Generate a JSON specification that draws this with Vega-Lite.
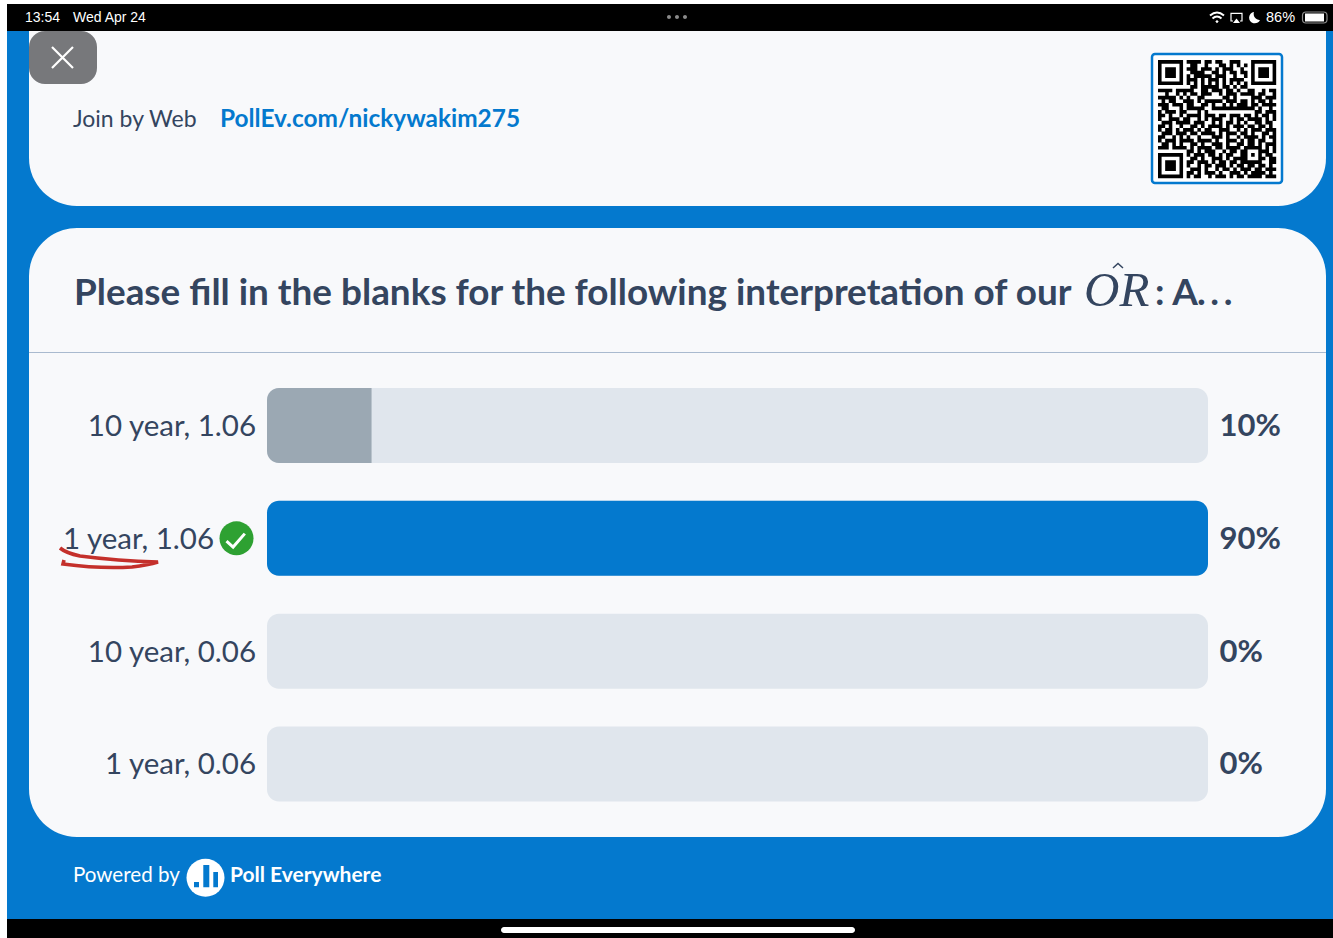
{
"$schema":"https://vega.github.io/schema/vega-lite/v6.json",
"width":1333,"height":938,"padding":0,"autosize":"none","background":"#ffffff",
"config":{"view":{"stroke":null},"point":{"opacity":1},"text":{"font":"Lato","baseline":"middle","align":"left"}},
"data":{"values":[
{"option":"10 year, 1.06","share":0.10,"correct":false},
{"option":"1 year, 1.06","share":0.90,"correct":true},
{"option":"10 year, 0.06","share":0.00,"correct":false},
{"option":"1 year, 0.06","share":0.00,"correct":false}
]},
"layer":[
{"data":{"values":[{"part":"status bar"}]},"mark":{"type":"rect","fill":"#000000"},"encoding":{"x":{"value":7},"x2":{"value":1333},"y":{"value":4},"y2":{"value":31}}},
{"data":{"values":[{"part":"page"}]},"mark":{"type":"rect","fill":"#0479CE"},"encoding":{"x":{"value":7},"x2":{"value":1333},"y":{"value":31},"y2":{"value":919}}},
{"data":{"values":[{"part":"home bar"}]},"mark":{"type":"rect","fill":"#000000"},"encoding":{"x":{"value":7},"x2":{"value":1333},"y":{"value":919},"y2":{"value":938}}},
{"data":{"values":[{"part":"home indicator"}]},"mark":{"type":"rect","fill":"#ffffff","cornerRadius":3},"encoding":{"x":{"value":501},"x2":{"value":855},"y":{"value":927},"y2":{"value":933}}},
{"data":{"values":[{"part":"join card"}]},"mark":{"type":"rect","fill":"#F8F9FB","cornerRadiusBottomLeft":48,"cornerRadiusBottomRight":48},"encoding":{"x":{"value":29},"x2":{"value":1326},"y":{"value":31},"y2":{"value":206}}},
{"data":{"values":[{"part":"poll card"}]},"mark":{"type":"rect","fill":"#F8F9FB","cornerRadius":48},"encoding":{"x":{"value":29},"x2":{"value":1326},"y":{"value":228},"y2":{"value":837}}},
{"data":{"values":[{"part":"divider"}]},"mark":{"type":"rect","fill":"#A9BACF"},"encoding":{"x":{"value":29},"x2":{"value":1326},"y":{"value":352},"y2":{"value":353}}},
{"data":{"values":[{"part":"close button"}]},"mark":{"type":"rect","fill":"#77787B","cornerRadius":16},"encoding":{"x":{"value":29},"x2":{"value":97},"y":{"value":31},"y2":{"value":84}}},
{"data":{"values":[{"part":"close icon"}]},"mark":{"type":"point","shape":"M52 47L73 68M73 47L52 68","size":4,"filled":false,"stroke":"#ffffff","strokeWidth":2.2},"encoding":{"x":{"value":0},"y":{"value":0}}},
{"data":{"values":[{"part":"qr frame"}]},"mark":{"type":"rect","fill":"#ffffff","stroke":"#0479CE","strokeWidth":2.5,"cornerRadius":3},"encoding":{"x":{"value":1152},"x2":{"value":1282},"y":{"value":54},"y2":{"value":183}}},
{"data":{"values":[{"part":"qr code"}]},"mark":{"type":"point","size":51.3,"filled":false,"stroke":"#000000","strokeWidth":3.65,"shape":"M0 0H7M8 0H12M13 0H15M16 0H18M20 0H23M26 0H33M0 1H1M6 1H7M9 1H11M13 1H14M17 1H19M20 1H21M22 1H23M24 1H25M26 1H27M32 1H33M0 2H1M2 2H5M6 2H7M8 2H11M12 2H15M16 2H17M18 2H21M23 2H24M26 2H27M28 2H31M32 2H33M0 3H1M2 3H5M6 3H7M9 3H13M15 3H17M18 3H19M20 3H22M23 3H25M26 3H27M28 3H31M32 3H33M0 4H1M2 4H5M6 4H7M8 4H9M10 4H15M16 4H19M21 4H22M24 4H25M26 4H27M28 4H31M32 4H33M0 5H1M6 5H7M8 5H11M12 5H13M14 5H17M18 5H19M20 5H24M26 5H27M32 5H33M0 6H7M8 6H9M10 6H11M12 6H13M14 6H15M16 6H17M18 6H19M20 6H21M22 6H23M24 6H25M26 6H33M9 7H11M12 7H17M18 7H20M21 7H22M23 7H25M0 8H4M5 8H10M12 8H14M15 8H18M19 8H21M22 8H23M25 8H27M29 8H30M31 8H33M2 9H3M5 9H6M7 9H8M9 9H11M12 9H15M17 9H18M19 9H22M23 9H27M28 9H30M32 9H33M0 10H5M6 10H7M8 10H9M11 10H13M18 10H20M21 10H22M26 10H29M30 10H33M1 11H2M3 11H5M7 11H10M11 11H12M13 11H18M19 11H22M23 11H25M26 11H27M28 11H30M31 11H32M0 12H3M4 12H7M8 12H10M12 12H14M15 12H16M18 12H19M20 12H21M22 12H25M26 12H28M29 12H33M1 13H3M6 13H7M8 13H13M15 13H27M28 13H29M31 13H32M0 14H1M2 14H5M6 14H8M11 14H12M13 14H14M27 14H29M30 14H33M0 15H2M3 15H4M6 15H7M8 15H12M13 15H16M17 15H19M20 15H23M24 15H26M27 15H28M29 15H31M32 15H33M0 16H1M3 16H6M7 16H9M11 16H12M13 16H14M15 16H18M20 16H21M22 16H24M25 16H29M30 16H31M32 16H33M1 17H4M5 17H9M10 17H13M15 17H16M17 17H18M19 17H21M22 17H23M24 17H25M27 17H29M30 17H32M0 18H2M3 18H4M6 18H7M9 18H11M12 18H13M14 18H18M19 18H20M21 18H24M25 18H27M28 18H30M31 18H32M0 19H1M2 19H4M5 19H6M7 19H10M11 19H12M13 19H15M17 19H20M22 19H23M24 19H25M26 19H29M30 19H33M1 20H4M5 20H8M9 20H11M12 20H16M17 20H18M19 20H22M23 20H25M26 20H27M29 20H31M32 20H33M0 21H2M4 21H5M6 21H7M8 21H9M11 21H12M15 21H18M19 21H20M22 21H23M24 21H28M29 21H30M31 21H33M0 22H1M2 22H5M6 22H10M11 22H15M16 22H17M19 22H22M23 22H24M25 22H27M28 22H30M32 22H33M1 23H3M4 23H5M6 23H7M9 23H11M12 23H13M15 23H18M19 23H20M22 23H24M25 23H27M28 23H29M30 23H33M0 24H3M4 24H8M9 24H10M11 24H15M16 24H18M19 24H23M24 24H29M30 24H31M32 24H33M8 25H10M11 25H12M13 25H16M18 25H19M20 25H22M23 25H25M28 25H31M32 25H33M0 26H7M8 26H9M10 26H13M14 26H16M17 26H18M19 26H21M23 26H25M26 26H27M28 26H29M30 26H32M0 27H1M6 27H7M9 27H11M12 27H13M15 27H18M19 27H20M21 27H25M28 27H30M31 27H33M0 28H1M2 28H5M6 28H7M8 28H10M11 28H14M15 28H16M17 28H19M20 28H22M23 28H29M31 28H33M0 29H1M2 29H5M6 29H7M8 29H9M11 29H12M13 29H15M16 29H19M20 29H21M22 29H24M25 29H27M28 29H30M31 29H32M0 30H1M2 30H5M6 30H7M9 30H12M13 30H14M16 30H17M18 30H20M21 30H22M23 30H26M27 30H29M30 30H33M0 31H1M6 31H7M8 31H10M11 31H12M13 31H16M17 31H18M20 31H23M24 31H25M26 31H30M31 31H32M0 32H7M8 32H9M10 32H12M14 32H15M16 32H19M20 32H21M22 32H24M25 32H29M30 32H33"},"encoding":{"x":{"value":1158},"y":{"value":61.8}}},

{"mark":{"type":"bar","fill":"#E0E6ED","cornerRadius":12},"encoding":{
"x":{"datum":0,"type":"quantitative","scale":{"domain":[0,0.9],"range":[267,1208]},"axis":null},
"x2":{"datum":0.9},
"y":{"field":"option","type":"nominal","sort":null,"axis":null,"scale":{"domain":["10 year, 1.06","1 year, 1.06","10 year, 0.06","1 year, 0.06"],"range":[388,801.5],"paddingInner":0.335,"paddingOuter":0}}}},
{"transform":[{"filter":"!datum.correct && datum.share > 0"}],"mark":{"type":"bar","cornerRadiusTopLeft":12,"cornerRadiusBottomLeft":12},"encoding":{
"x":{"field":"share","type":"quantitative","stack":null},
"y":{"field":"option","type":"nominal","sort":null},
"color":{"field":"correct","type":"nominal","legend":null,"scale":{"domain":[false,true],"range":["#9BA8B3","#0479CE"]}}}},
{"transform":[{"filter":"datum.correct"}],"mark":{"type":"bar","cornerRadius":12},"encoding":{
"x":{"field":"share","type":"quantitative","stack":null},
"y":{"field":"option","type":"nominal","sort":null},
"color":{"field":"correct","type":"nominal","legend":null}}},
{"transform":[{"filter":"!datum.correct"}],"mark":{"type":"text","align":"right","fontSize":29.5,"dy":1.5,"fill":"#34455F"},"encoding":{
"x":{"value":256},"y":{"field":"option","type":"nominal","sort":null},"text":{"field":"option"}}},
{"transform":[{"filter":"datum.correct"}],"mark":{"type":"text","align":"right","fontSize":29.5,"dy":1.5,"fill":"#34455F"},"encoding":{
"x":{"value":214},"y":{"field":"option","type":"nominal","sort":null},"text":{"field":"option"}}},
{"mark":{"type":"text","fontSize":31,"fontWeight":"bold","dy":1.5,"fill":"#34455F"},"encoding":{
"x":{"value":1219.5},"y":{"field":"option","type":"nominal","sort":null},"text":{"field":"share","type":"quantitative","format":".0%"}}},
{"transform":[{"filter":"datum.correct"}],"mark":{"type":"circle","fill":"#2EA132","size":1156,"opacity":1},"encoding":{
"x":{"value":236.5},"y":{"field":"option","type":"nominal","sort":null}}},
{"transform":[{"filter":"datum.correct"}],"mark":{"type":"point","shape":"M-10 2.7L-3.4 8.7L8.3 -4.7","size":4,"filled":false,"stroke":"#ffffff","strokeWidth":3},"encoding":{
"x":{"value":236.5},"y":{"field":"option","type":"nominal","sort":null}}},
{"data":{"values":[{"part":"pen underline"}]},"mark":{"type":"point","size":4,"filled":false,"stroke":"#C4302B","strokeWidth":3.6,"shape":"M60 548Q66 553 80 556Q118 561 158 562Q148 565 132 567Q100 569 63 564L64 560"},"encoding":{"x":{"value":0},"y":{"value":0}}},

{"data":{"values":[{"t":"13:54"}]},"mark":{"type":"text","font":"Liberation Sans","fontSize":14,"fill":"#ffffff"},"encoding":{"x":{"value":25},"y":{"value":17.5},"text":{"field":"t"}}},
{"data":{"values":[{"t":"Wed Apr 24"}]},"mark":{"type":"text","font":"Liberation Sans","fontSize":14,"fill":"#ffffff"},"encoding":{"x":{"value":73},"y":{"value":17.5},"text":{"field":"t"}}},
{"data":{"values":[{"t":"86%"}]},"mark":{"type":"text","font":"Liberation Sans","fontSize":14.5,"fill":"#ffffff"},"encoding":{"x":{"value":1266},"y":{"value":17.5},"text":{"field":"t"}}},
{"data":{"values":[{"part":"dots"}]},"mark":{"type":"point","shape":"M667 17a2 2 0 1 0 4 0a2 2 0 1 0 -4 0M675 17a2 2 0 1 0 4 0a2 2 0 1 0 -4 0M683 17a2 2 0 1 0 4 0a2 2 0 1 0 -4 0","size":4,"filled":true,"fill":"#8a8a8a","stroke":null},"encoding":{"x":{"value":0},"y":{"value":0}}},
{"data":{"values":[{"part":"wifi"}]},"mark":{"type":"point","shape":"M1210 15.5Q1217 9.5 1224 15.5M1212.5 18.5Q1217 14.5 1221.5 18.5","size":4,"filled":false,"stroke":"#ffffff","strokeWidth":2},"encoding":{"x":{"value":0},"y":{"value":0}}},
{"data":{"values":[{"part":"wifi dot, airplay arrow, moon, battery level"}]},"mark":{"type":"point","shape":"M1215.3 21.5L1217 20L1218.7 21.5L1217 23.2ZM1233 23H1240L1236.5 18.5ZM1254 12A5.7 5.7 0 1 0 1260 20A6 6 0 0 1 1254 12ZM1305 13.5H1324V21.5H1305Z","size":4,"filled":true,"fill":"#ffffff","stroke":null},"encoding":{"x":{"value":0},"y":{"value":0}}},
{"data":{"values":[{"part":"airplay screen"}]},"mark":{"type":"point","shape":"M1233 21H1231V13.3H1242V21H1240","size":4,"filled":false,"stroke":"#ffffff","strokeWidth":1.2},"encoding":{"x":{"value":0},"y":{"value":0}}},
{"data":{"values":[{"part":"battery case"}]},"mark":{"type":"rect","stroke":"#8c8c8c","strokeWidth":1.2,"fill":null,"cornerRadius":3.5},"encoding":{"x":{"value":1302.5},"x2":{"value":1327},"y":{"value":12},"y2":{"value":23}}},

{"data":{"values":[{"t":"Join by Web"}]},"mark":{"type":"text","fontSize":23,"fill":"#34455F"},"encoding":{"x":{"value":73},"y":{"value":119.5},"text":{"field":"t"}}},
{"data":{"values":[{"t":"PollEv.com/nickywakim275"}]},"mark":{"type":"text","fontSize":24.4,"fontWeight":"bold","fill":"#0479CE"},"encoding":{"x":{"value":220},"y":{"value":119.5},"text":{"field":"t"}}},
{"data":{"values":[{"t":"Please fill in the blanks for the following interpretation of our"}]},"mark":{"type":"text","fontSize":36.9,"fontWeight":"bold","fill":"#34455F"},"encoding":{"x":{"value":74},"y":{"value":294},"text":{"field":"t"}}},
{"data":{"values":[{"t":"OR"}]},"mark":{"type":"text","font":"Liberation Serif","fontStyle":"italic","fontSize":49,"fill":"#34455F"},"encoding":{"x":{"value":1084},"y":{"value":291},"text":{"field":"t"}}},
{"data":{"values":[{"part":"hat"}]},"mark":{"type":"point","shape":"M1113 268L1118 263.5L1123 268","size":4,"filled":false,"stroke":"#34455F","strokeWidth":1.5},"encoding":{"x":{"value":0},"y":{"value":0}}},
{"data":{"values":[{"t":": A"}]},"mark":{"type":"text","fontSize":36.9,"fontWeight":"bold","fill":"#34455F"},"encoding":{"x":{"value":1155},"y":{"value":294},"text":{"field":"t"}}},
{"data":{"values":[{"t":".\u2009.\u2009."}]},"mark":{"type":"text","fontSize":36.9,"fontWeight":"bold","fill":"#34455F"},"encoding":{"x":{"value":1197},"y":{"value":294},"text":{"field":"t"}}},

{"data":{"values":[{"t":"Powered by"}]},"mark":{"type":"text","fontSize":20.6,"fill":"#ffffff"},"encoding":{"x":{"value":73},"y":{"value":876},"text":{"field":"t"}}},
{"data":{"values":[{"t":"Poll Everywhere"}]},"mark":{"type":"text","fontSize":21,"fontWeight":"bold","fill":"#ffffff"},"encoding":{"x":{"value":230},"y":{"value":876},"text":{"field":"t"}}},
{"data":{"values":[{"part":"logo disc"}]},"mark":{"type":"circle","fill":"#ffffff","size":1444,"opacity":1},"encoding":{"x":{"value":205.5},"y":{"value":877.7}}},
{"data":{"values":[{"part":"logo bars"}]},"mark":{"type":"point","shape":"M194 882H199V887.3H194ZM203.3 865H209.3V887.3H203.3ZM213.3 872H218V887.3H213.3Z","size":4,"filled":true,"fill":"#0479CE","stroke":null},"encoding":{"x":{"value":0},"y":{"value":0}}}
]
}
